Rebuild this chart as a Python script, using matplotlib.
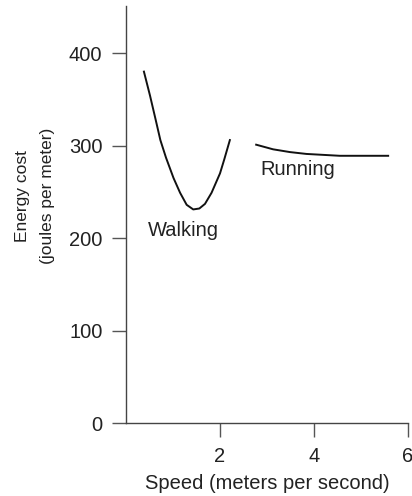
import matplotlib.pyplot as plt
import numpy as np

plt.rcParams['font.family'] = ['Liberation Sans', 'DejaVu Sans']

# walking curve (speed m/s, energy J/m)
walkSpeed = [0.38, 0.51, 0.63, 0.73, 0.85, 1.01, 1.15, 1.29, 1.43, 1.56, 1.68, 1.82, 2.00, 2.09, 2.21]
walkCost = [380, 354, 328, 306, 287, 265, 249, 236, 231, 232, 237, 249, 270, 285, 306]

# running curve
runSpeed = [2.77, 3.13, 3.49, 3.84, 4.55, 5.58]
runCost = [301, 296, 293, 291, 289, 289]

xTicks = [2, 4, 6]
yTicks = [0, 100, 200, 300, 400]

fs = 14.5

fig = plt.figure(figsize=(4.12, 4.96), dpi=100)
ax = fig.add_axes([0.306, 0.147, 0.684, 0.841])

ax.plot(walkSpeed, walkCost, color='#111111', linewidth=1.4, solid_joinstyle='round')
ax.plot(runSpeed, runCost, color='#111111', linewidth=1.4, solid_joinstyle='round')

ax.text(1.22, 202, 'Walking', fontsize=fs, color='#222222', ha='center', va='baseline')
ax.text(2.87, 268, 'Running', fontsize=fs, color='#222222', ha='left', va='baseline')

ax.set_xlim(0, 6)
ax.set_ylim(0, 451)
ax.set_xticks(xTicks)
ax.set_yticks(yTicks)

for side in ['top', 'right']:
	ax.spines[side].set_visible(False)
for side in ['left', 'bottom']:
	ax.spines[side].set_color('#444444')
	ax.spines[side].set_linewidth(1.0)

ax.tick_params(axis='both', direction='out', length=10, width=1.0, color='#555555',
	labelsize=fs, labelcolor='#222222', pad=7)

ax.set_xlabel('Speed (meters per second)', fontsize=fs, color='#222222', labelpad=6)
ax.set_ylabel('Energy cost\n(joules per meter)', fontsize=12.5, color='#222222', linespacing=1.8)
ax.yaxis.set_label_coords(-0.252, 0.544)

fig.savefig('out.png', dpi=100)
